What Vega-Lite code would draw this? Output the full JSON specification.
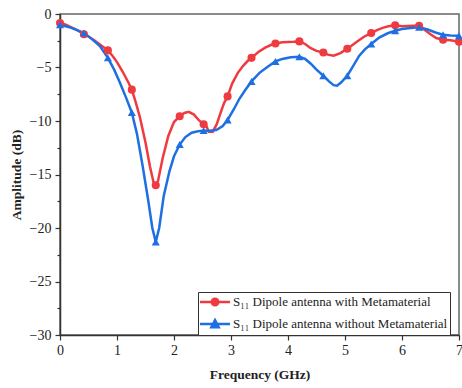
{
  "$schema": "https://vega.github.io/schema/vega-lite/v6.json",
  "width": 399,
  "height": 321,
  "autosize": {"type": "none"},
  "padding": {"left": 60, "top": 14, "right": 3, "bottom": 53},
  "background": "white",
  "config": {
    "view": {"stroke": "#666", "strokeWidth": 1.5},
    "font": "Liberation Serif"
  },
  "datasets": {
    "curve": [
      {"f": 0.00, "amp": -0.8, "series": "S₁₁ Dipole antenna with Metamaterial"},
      {"f": 0.10, "amp": -1.0, "series": "S₁₁ Dipole antenna with Metamaterial"},
      {"f": 0.20, "amp": -1.25, "series": "S₁₁ Dipole antenna with Metamaterial"},
      {"f": 0.30, "amp": -1.5, "series": "S₁₁ Dipole antenna with Metamaterial"},
      {"f": 0.42, "amp": -1.9, "series": "S₁₁ Dipole antenna with Metamaterial"},
      {"f": 0.50, "amp": -2.1, "series": "S₁₁ Dipole antenna with Metamaterial"},
      {"f": 0.60, "amp": -2.45, "series": "S₁₁ Dipole antenna with Metamaterial"},
      {"f": 0.70, "amp": -2.85, "series": "S₁₁ Dipole antenna with Metamaterial"},
      {"f": 0.84, "amp": -3.4, "series": "S₁₁ Dipole antenna with Metamaterial"},
      {"f": 0.92, "amp": -3.9, "series": "S₁₁ Dipole antenna with Metamaterial"},
      {"f": 1.00, "amp": -4.5, "series": "S₁₁ Dipole antenna with Metamaterial"},
      {"f": 1.10, "amp": -5.4, "series": "S₁₁ Dipole antenna with Metamaterial"},
      {"f": 1.20, "amp": -6.4, "series": "S₁₁ Dipole antenna with Metamaterial"},
      {"f": 1.26, "amp": -7.07, "series": "S₁₁ Dipole antenna with Metamaterial"},
      {"f": 1.32, "amp": -8.1, "series": "S₁₁ Dipole antenna with Metamaterial"},
      {"f": 1.40, "amp": -9.6, "series": "S₁₁ Dipole antenna with Metamaterial"},
      {"f": 1.50, "amp": -12.0, "series": "S₁₁ Dipole antenna with Metamaterial"},
      {"f": 1.58, "amp": -14.3, "series": "S₁₁ Dipole antenna with Metamaterial"},
      {"f": 1.64, "amp": -15.7, "series": "S₁₁ Dipole antenna with Metamaterial"},
      {"f": 1.68, "amp": -16.0, "series": "S₁₁ Dipole antenna with Metamaterial"},
      {"f": 1.72, "amp": -15.6, "series": "S₁₁ Dipole antenna with Metamaterial"},
      {"f": 1.80, "amp": -13.5, "series": "S₁₁ Dipole antenna with Metamaterial"},
      {"f": 1.90, "amp": -11.4, "series": "S₁₁ Dipole antenna with Metamaterial"},
      {"f": 2.00, "amp": -10.1, "series": "S₁₁ Dipole antenna with Metamaterial"},
      {"f": 2.10, "amp": -9.55, "series": "S₁₁ Dipole antenna with Metamaterial"},
      {"f": 2.18, "amp": -9.25, "series": "S₁₁ Dipole antenna with Metamaterial"},
      {"f": 2.26, "amp": -9.15, "series": "S₁₁ Dipole antenna with Metamaterial"},
      {"f": 2.35, "amp": -9.4, "series": "S₁₁ Dipole antenna with Metamaterial"},
      {"f": 2.44, "amp": -9.95, "series": "S₁₁ Dipole antenna with Metamaterial"},
      {"f": 2.52, "amp": -10.3, "series": "S₁₁ Dipole antenna with Metamaterial"},
      {"f": 2.57, "amp": -10.5, "series": "S₁₁ Dipole antenna with Metamaterial"},
      {"f": 2.61, "amp": -11.0, "series": "S₁₁ Dipole antenna with Metamaterial"},
      {"f": 2.68, "amp": -11.0, "series": "S₁₁ Dipole antenna with Metamaterial"},
      {"f": 2.75, "amp": -10.3, "series": "S₁₁ Dipole antenna with Metamaterial"},
      {"f": 2.82, "amp": -9.2, "series": "S₁₁ Dipole antenna with Metamaterial"},
      {"f": 2.88, "amp": -8.3, "series": "S₁₁ Dipole antenna with Metamaterial"},
      {"f": 2.94, "amp": -7.7, "series": "S₁₁ Dipole antenna with Metamaterial"},
      {"f": 3.02, "amp": -6.5, "series": "S₁₁ Dipole antenna with Metamaterial"},
      {"f": 3.12, "amp": -5.5, "series": "S₁₁ Dipole antenna with Metamaterial"},
      {"f": 3.22, "amp": -4.8, "series": "S₁₁ Dipole antenna with Metamaterial"},
      {"f": 3.30, "amp": -4.35, "series": "S₁₁ Dipole antenna with Metamaterial"},
      {"f": 3.36, "amp": -4.1, "series": "S₁₁ Dipole antenna with Metamaterial"},
      {"f": 3.48, "amp": -3.55, "series": "S₁₁ Dipole antenna with Metamaterial"},
      {"f": 3.60, "amp": -3.15, "series": "S₁₁ Dipole antenna with Metamaterial"},
      {"f": 3.70, "amp": -2.9, "series": "S₁₁ Dipole antenna with Metamaterial"},
      {"f": 3.78, "amp": -2.75, "series": "S₁₁ Dipole antenna with Metamaterial"},
      {"f": 3.90, "amp": -2.65, "series": "S₁₁ Dipole antenna with Metamaterial"},
      {"f": 4.00, "amp": -2.62, "series": "S₁₁ Dipole antenna with Metamaterial"},
      {"f": 4.10, "amp": -2.6, "series": "S₁₁ Dipole antenna with Metamaterial"},
      {"f": 4.20, "amp": -2.56, "series": "S₁₁ Dipole antenna with Metamaterial"},
      {"f": 4.30, "amp": -2.8, "series": "S₁₁ Dipole antenna with Metamaterial"},
      {"f": 4.40, "amp": -3.2, "series": "S₁₁ Dipole antenna with Metamaterial"},
      {"f": 4.50, "amp": -3.45, "series": "S₁₁ Dipole antenna with Metamaterial"},
      {"f": 4.62, "amp": -3.6, "series": "S₁₁ Dipole antenna with Metamaterial"},
      {"f": 4.70, "amp": -3.8, "series": "S₁₁ Dipole antenna with Metamaterial"},
      {"f": 4.80, "amp": -3.9, "series": "S₁₁ Dipole antenna with Metamaterial"},
      {"f": 4.92, "amp": -3.65, "series": "S₁₁ Dipole antenna with Metamaterial"},
      {"f": 5.04, "amp": -3.24, "series": "S₁₁ Dipole antenna with Metamaterial"},
      {"f": 5.12, "amp": -2.95, "series": "S₁₁ Dipole antenna with Metamaterial"},
      {"f": 5.22, "amp": -2.55, "series": "S₁₁ Dipole antenna with Metamaterial"},
      {"f": 5.34, "amp": -2.1, "series": "S₁₁ Dipole antenna with Metamaterial"},
      {"f": 5.46, "amp": -1.78, "series": "S₁₁ Dipole antenna with Metamaterial"},
      {"f": 5.56, "amp": -1.5, "series": "S₁₁ Dipole antenna with Metamaterial"},
      {"f": 5.66, "amp": -1.3, "series": "S₁₁ Dipole antenna with Metamaterial"},
      {"f": 5.76, "amp": -1.15, "series": "S₁₁ Dipole antenna with Metamaterial"},
      {"f": 5.88, "amp": -1.05, "series": "S₁₁ Dipole antenna with Metamaterial"},
      {"f": 6.00, "amp": -1.15, "series": "S₁₁ Dipole antenna with Metamaterial"},
      {"f": 6.10, "amp": -1.12, "series": "S₁₁ Dipole antenna with Metamaterial"},
      {"f": 6.20, "amp": -1.1, "series": "S₁₁ Dipole antenna with Metamaterial"},
      {"f": 6.30, "amp": -1.1, "series": "S₁₁ Dipole antenna with Metamaterial"},
      {"f": 6.40, "amp": -1.5, "series": "S₁₁ Dipole antenna with Metamaterial"},
      {"f": 6.50, "amp": -1.9, "series": "S₁₁ Dipole antenna with Metamaterial"},
      {"f": 6.60, "amp": -2.25, "series": "S₁₁ Dipole antenna with Metamaterial"},
      {"f": 6.72, "amp": -2.4, "series": "S₁₁ Dipole antenna with Metamaterial"},
      {"f": 6.85, "amp": -2.45, "series": "S₁₁ Dipole antenna with Metamaterial"},
      {"f": 7.00, "amp": -2.6, "series": "S₁₁ Dipole antenna with Metamaterial"},

      {"f": 0.00, "amp": -1.0, "series": "S₁₁ Dipole antenna without Metamaterial"},
      {"f": 0.10, "amp": -1.15, "series": "S₁₁ Dipole antenna without Metamaterial"},
      {"f": 0.20, "amp": -1.3, "series": "S₁₁ Dipole antenna without Metamaterial"},
      {"f": 0.30, "amp": -1.5, "series": "S₁₁ Dipole antenna without Metamaterial"},
      {"f": 0.42, "amp": -1.78, "series": "S₁₁ Dipole antenna without Metamaterial"},
      {"f": 0.55, "amp": -2.3, "series": "S₁₁ Dipole antenna without Metamaterial"},
      {"f": 0.70, "amp": -3.0, "series": "S₁₁ Dipole antenna without Metamaterial"},
      {"f": 0.84, "amp": -4.1, "series": "S₁₁ Dipole antenna without Metamaterial"},
      {"f": 0.95, "amp": -5.2, "series": "S₁₁ Dipole antenna without Metamaterial"},
      {"f": 1.05, "amp": -6.4, "series": "S₁₁ Dipole antenna without Metamaterial"},
      {"f": 1.15, "amp": -7.7, "series": "S₁₁ Dipole antenna without Metamaterial"},
      {"f": 1.26, "amp": -9.2, "series": "S₁₁ Dipole antenna without Metamaterial"},
      {"f": 1.35, "amp": -11.2, "series": "S₁₁ Dipole antenna without Metamaterial"},
      {"f": 1.45, "amp": -14.2, "series": "S₁₁ Dipole antenna without Metamaterial"},
      {"f": 1.55, "amp": -17.5, "series": "S₁₁ Dipole antenna without Metamaterial"},
      {"f": 1.62, "amp": -20.0, "series": "S₁₁ Dipole antenna without Metamaterial"},
      {"f": 1.68, "amp": -21.3, "series": "S₁₁ Dipole antenna without Metamaterial"},
      {"f": 1.74, "amp": -20.0, "series": "S₁₁ Dipole antenna without Metamaterial"},
      {"f": 1.82, "amp": -17.0, "series": "S₁₁ Dipole antenna without Metamaterial"},
      {"f": 1.92, "amp": -14.7, "series": "S₁₁ Dipole antenna without Metamaterial"},
      {"f": 2.00, "amp": -13.3, "series": "S₁₁ Dipole antenna without Metamaterial"},
      {"f": 2.10, "amp": -12.2, "series": "S₁₁ Dipole antenna without Metamaterial"},
      {"f": 2.20, "amp": -11.5, "series": "S₁₁ Dipole antenna without Metamaterial"},
      {"f": 2.31, "amp": -11.1, "series": "S₁₁ Dipole antenna without Metamaterial"},
      {"f": 2.42, "amp": -10.95, "series": "S₁₁ Dipole antenna without Metamaterial"},
      {"f": 2.52, "amp": -10.9, "series": "S₁₁ Dipole antenna without Metamaterial"},
      {"f": 2.62, "amp": -10.9, "series": "S₁₁ Dipole antenna without Metamaterial"},
      {"f": 2.74, "amp": -10.85, "series": "S₁₁ Dipole antenna without Metamaterial"},
      {"f": 2.85, "amp": -10.5, "series": "S₁₁ Dipole antenna without Metamaterial"},
      {"f": 2.94, "amp": -9.9, "series": "S₁₁ Dipole antenna without Metamaterial"},
      {"f": 3.05, "amp": -8.9, "series": "S₁₁ Dipole antenna without Metamaterial"},
      {"f": 3.15, "amp": -7.9, "series": "S₁₁ Dipole antenna without Metamaterial"},
      {"f": 3.25, "amp": -7.1, "series": "S₁₁ Dipole antenna without Metamaterial"},
      {"f": 3.36, "amp": -6.3, "series": "S₁₁ Dipole antenna without Metamaterial"},
      {"f": 3.50, "amp": -5.5, "series": "S₁₁ Dipole antenna without Metamaterial"},
      {"f": 3.65, "amp": -4.9, "series": "S₁₁ Dipole antenna without Metamaterial"},
      {"f": 3.78, "amp": -4.43, "series": "S₁₁ Dipole antenna without Metamaterial"},
      {"f": 3.90, "amp": -4.2, "series": "S₁₁ Dipole antenna without Metamaterial"},
      {"f": 4.05, "amp": -4.05, "series": "S₁₁ Dipole antenna without Metamaterial"},
      {"f": 4.20, "amp": -4.0, "series": "S₁₁ Dipole antenna without Metamaterial"},
      {"f": 4.30, "amp": -4.2, "series": "S₁₁ Dipole antenna without Metamaterial"},
      {"f": 4.40, "amp": -4.65, "series": "S₁₁ Dipole antenna without Metamaterial"},
      {"f": 4.50, "amp": -5.2, "series": "S₁₁ Dipole antenna without Metamaterial"},
      {"f": 4.62, "amp": -5.77, "series": "S₁₁ Dipole antenna without Metamaterial"},
      {"f": 4.72, "amp": -6.3, "series": "S₁₁ Dipole antenna without Metamaterial"},
      {"f": 4.80, "amp": -6.65, "series": "S₁₁ Dipole antenna without Metamaterial"},
      {"f": 4.86, "amp": -6.7, "series": "S₁₁ Dipole antenna without Metamaterial"},
      {"f": 4.93, "amp": -6.4, "series": "S₁₁ Dipole antenna without Metamaterial"},
      {"f": 5.04, "amp": -5.77, "series": "S₁₁ Dipole antenna without Metamaterial"},
      {"f": 5.15, "amp": -4.8, "series": "S₁₁ Dipole antenna without Metamaterial"},
      {"f": 5.25, "amp": -3.9, "series": "S₁₁ Dipole antenna without Metamaterial"},
      {"f": 5.35, "amp": -3.3, "series": "S₁₁ Dipole antenna without Metamaterial"},
      {"f": 5.46, "amp": -2.8, "series": "S₁₁ Dipole antenna without Metamaterial"},
      {"f": 5.60, "amp": -2.2, "series": "S₁₁ Dipole antenna without Metamaterial"},
      {"f": 5.75, "amp": -1.8, "series": "S₁₁ Dipole antenna without Metamaterial"},
      {"f": 5.88, "amp": -1.56, "series": "S₁₁ Dipole antenna without Metamaterial"},
      {"f": 6.00, "amp": -1.4, "series": "S₁₁ Dipole antenna without Metamaterial"},
      {"f": 6.15, "amp": -1.3, "series": "S₁₁ Dipole antenna without Metamaterial"},
      {"f": 6.30, "amp": -1.25, "series": "S₁₁ Dipole antenna without Metamaterial"},
      {"f": 6.45, "amp": -1.45, "series": "S₁₁ Dipole antenna without Metamaterial"},
      {"f": 6.60, "amp": -1.75, "series": "S₁₁ Dipole antenna without Metamaterial"},
      {"f": 6.72, "amp": -1.93, "series": "S₁₁ Dipole antenna without Metamaterial"},
      {"f": 6.85, "amp": -2.0, "series": "S₁₁ Dipole antenna without Metamaterial"},
      {"f": 7.00, "amp": -2.03, "series": "S₁₁ Dipole antenna without Metamaterial"}
    ],
    "samples": [
      {"f": 0.00, "amp": -0.85, "series": "S₁₁ Dipole antenna with Metamaterial"},
      {"f": 0.42, "amp": -1.9, "series": "S₁₁ Dipole antenna with Metamaterial"},
      {"f": 0.84, "amp": -3.4, "series": "S₁₁ Dipole antenna with Metamaterial"},
      {"f": 1.26, "amp": -7.07, "series": "S₁₁ Dipole antenna with Metamaterial"},
      {"f": 1.68, "amp": -16.0, "series": "S₁₁ Dipole antenna with Metamaterial"},
      {"f": 2.10, "amp": -9.55, "series": "S₁₁ Dipole antenna with Metamaterial"},
      {"f": 2.52, "amp": -10.3, "series": "S₁₁ Dipole antenna with Metamaterial"},
      {"f": 2.94, "amp": -7.7, "series": "S₁₁ Dipole antenna with Metamaterial"},
      {"f": 3.36, "amp": -4.1, "series": "S₁₁ Dipole antenna with Metamaterial"},
      {"f": 3.78, "amp": -2.75, "series": "S₁₁ Dipole antenna with Metamaterial"},
      {"f": 4.20, "amp": -2.56, "series": "S₁₁ Dipole antenna with Metamaterial"},
      {"f": 4.62, "amp": -3.6, "series": "S₁₁ Dipole antenna with Metamaterial"},
      {"f": 5.04, "amp": -3.24, "series": "S₁₁ Dipole antenna with Metamaterial"},
      {"f": 5.46, "amp": -1.78, "series": "S₁₁ Dipole antenna with Metamaterial"},
      {"f": 5.88, "amp": -1.05, "series": "S₁₁ Dipole antenna with Metamaterial"},
      {"f": 6.30, "amp": -1.1, "series": "S₁₁ Dipole antenna with Metamaterial"},
      {"f": 6.72, "amp": -2.4, "series": "S₁₁ Dipole antenna with Metamaterial"},
      {"f": 7.00, "amp": -2.6, "series": "S₁₁ Dipole antenna with Metamaterial"},
      {"f": 0.00, "amp": -1.0, "series": "S₁₁ Dipole antenna without Metamaterial"},
      {"f": 0.42, "amp": -1.78, "series": "S₁₁ Dipole antenna without Metamaterial"},
      {"f": 0.84, "amp": -4.1, "series": "S₁₁ Dipole antenna without Metamaterial"},
      {"f": 1.26, "amp": -9.2, "series": "S₁₁ Dipole antenna without Metamaterial"},
      {"f": 1.68, "amp": -21.3, "series": "S₁₁ Dipole antenna without Metamaterial"},
      {"f": 2.10, "amp": -12.2, "series": "S₁₁ Dipole antenna without Metamaterial"},
      {"f": 2.52, "amp": -10.9, "series": "S₁₁ Dipole antenna without Metamaterial"},
      {"f": 2.94, "amp": -9.9, "series": "S₁₁ Dipole antenna without Metamaterial"},
      {"f": 3.36, "amp": -6.3, "series": "S₁₁ Dipole antenna without Metamaterial"},
      {"f": 3.78, "amp": -4.43, "series": "S₁₁ Dipole antenna without Metamaterial"},
      {"f": 4.20, "amp": -4.0, "series": "S₁₁ Dipole antenna without Metamaterial"},
      {"f": 4.62, "amp": -5.77, "series": "S₁₁ Dipole antenna without Metamaterial"},
      {"f": 5.04, "amp": -5.77, "series": "S₁₁ Dipole antenna without Metamaterial"},
      {"f": 5.46, "amp": -2.8, "series": "S₁₁ Dipole antenna without Metamaterial"},
      {"f": 5.88, "amp": -1.56, "series": "S₁₁ Dipole antenna without Metamaterial"},
      {"f": 6.30, "amp": -1.25, "series": "S₁₁ Dipole antenna without Metamaterial"},
      {"f": 6.72, "amp": -1.93, "series": "S₁₁ Dipole antenna without Metamaterial"},
      {"f": 7.00, "amp": -2.03, "series": "S₁₁ Dipole antenna without Metamaterial"}
    ]
  },
  "encoding": {
    "x": {
      "field": "f",
      "type": "quantitative",
      "scale": {"domain": [0, 7], "nice": false, "zero": false},
      "axis": {
        "title": "Frequency (GHz)",
        "values": [0, 0.5, 1, 1.5, 2, 2.5, 3, 3.5, 4, 4.5, 5, 5.5, 6, 6.5, 7],
        "format": "d",
        "labelExpr": "datum.value % 1 === 0 ? datum.label : ''",
        "labelFlush": false,
        "labelOverlap": false,
        "tickSize": {"condition": {"test": "datum.value % 1 !== 0", "value": 3}, "value": 5},
        "grid": false,
        "domainColor": "#333",
        "domainWidth": 1.5,
        "tickColor": "#333",
        "tickWidth": 1.2,
        "labelFont": "Liberation Serif",
        "labelFontSize": 14,
        "labelColor": "#222",
        "labelPadding": 3,
        "titleFont": "Liberation Serif",
        "titleFontSize": 13.5,
        "titleFontWeight": "bold",
        "titleColor": "#222",
        "titlePadding": 10
      }
    },
    "y": {
      "field": "amp",
      "type": "quantitative",
      "scale": {"domain": [-30, 0], "nice": false, "zero": false},
      "axis": {
        "title": "Amplitude (dB)",
        "values": [-30, -27.5, -25, -22.5, -20, -17.5, -15, -12.5, -10, -7.5, -5, -2.5, 0],
        "format": "d",
        "labelExpr": "datum.value % 5 === 0 ? datum.label : ''",
        "labelFlush": false,
        "labelOverlap": false,
        "tickSize": {"condition": {"test": "datum.value % 5 !== 0", "value": 3}, "value": 5},
        "grid": false,
        "domainColor": "#333",
        "domainWidth": 1.5,
        "tickColor": "#333",
        "tickWidth": 1.2,
        "labelFont": "Liberation Serif",
        "labelFontSize": 14,
        "labelColor": "#222",
        "labelPadding": 4,
        "titleFont": "Liberation Serif",
        "titleFontSize": 13.5,
        "titleFontWeight": "bold",
        "titleColor": "#222",
        "titlePadding": 6
      }
    },
    "color": {
      "field": "series",
      "type": "nominal",
      "scale": {
        "domain": ["S₁₁ Dipole antenna with Metamaterial", "S₁₁ Dipole antenna without Metamaterial"],
        "range": ["#ef3a40", "#1e6fe3"]
      },
      "legend": {
        "title": null,
        "orient": "none",
        "legendX": 138,
        "legendY": 278,
        "padding": 2,
        "strokeColor": "#333",
        "fillColor": "white",
        "labelFont": "Liberation Serif",
        "labelFontSize": 13,
        "labelColor": "#222",
        "labelLimit": 400,
        "labelOffset": 17,
        "rowPadding": 4,
        "symbolSize": 169,
        "symbolStrokeWidth": 2.5,
        "encode": {
          "symbols": {
            "update": {
              "shape": {"signal": "datum.value === 'S₁₁ Dipole antenna with Metamaterial' ? 'M-1.23,0H3.38M0.58,0A0.5,0.5,0,1,0,1.58,0A0.5,0.5,0,1,0,0.58,0Z' : 'M-1.23,0H3.38M1.08,-0.6L1.65,0.5L0.51,0.5Z'"},
              "fill": {"signal": "datum.value === 'S₁₁ Dipole antenna with Metamaterial' ? '#ef3a40' : '#1e6fe3'"},
              "stroke": {"signal": "datum.value === 'S₁₁ Dipole antenna with Metamaterial' ? '#ef3a40' : '#1e6fe3'"},
              "opacity": {"value": 1}
            }
          }
        }
      }
    }
  },
  "layer": [
    {
      "data": {"name": "curve"},
      "mark": {"type": "line", "strokeWidth": 2.5},
      "encoding": {"order": {"field": "f", "type": "quantitative"}}
    },
    {
      "data": {"name": "samples"},
      "mark": {"type": "point", "filled": true, "opacity": 1, "size": 65},
      "encoding": {
        "shape": {
          "field": "series",
          "type": "nominal",
          "scale": {"range": ["circle", "triangle-up"]},
          "legend": null
        }
      }
    }
  ]
}
